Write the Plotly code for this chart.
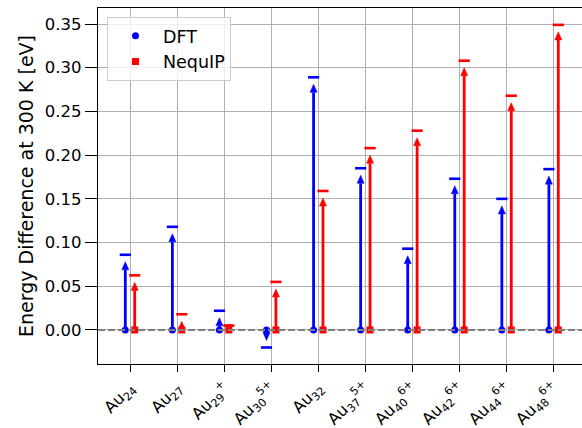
import numpy as np
import plotly.graph_objects as go

categories = ["Au<sub>24</sub>", "Au<sub>27</sub>", "Au<sub>29</sub><sup>+</sup>", "Au<sub>30</sub><sup>5+</sup>",
              "Au<sub>32</sub>", "Au<sub>37</sub><sup>5+</sup>", "Au<sub>40</sub><sup>6+</sup>",
              "Au<sub>42</sub><sup>6+</sup>", "Au<sub>44</sub><sup>6+</sup>", "Au<sub>48</sub><sup>6+</sup>"]
dft = [0.086, 0.118, 0.022, -0.020, 0.289, 0.185, 0.093, 0.173, 0.150, 0.184]
nequip = [0.0625, 0.018, 0.005, 0.055, 0.159, 0.208, 0.228, 0.308, 0.268, 0.349]
ytick_vals = [0.00, 0.05, 0.10, 0.15, 0.20, 0.25, 0.30, 0.35]

# style constants
OFFSET = 0.1
GAP = 0.008        # gap between dash and arrow tip (data units)
HEAD_LEN = 0.0092
HEAD_HW = 0.075
FONT = "DejaVu Sans"

fig = go.Figure()
idx = np.arange(len(categories))


def add_series(vals, xpos, color, symbol, name):
    vals = np.asarray(vals, dtype=float)
    ends = vals - np.sign(vals) * GAP
    sx, sy, hx, hy = [], [], [], []
    for x, e in zip(xpos, ends):
        s = 1.0 if e >= 0 else -1.0
        base = e - s * HEAD_LEN
        sx += [x, x, None]
        sy += [0, base, None]
        hx += [x - HEAD_HW, x + HEAD_HW, x, x - HEAD_HW, None]
        hy += [base, base, e, base, None]
    fig.add_trace(go.Scatter(x=sx, y=sy, mode="lines", line=dict(color=color, width=2.8),
                             showlegend=False, hoverinfo="skip"))
    fig.add_trace(go.Scatter(x=hx, y=hy, mode="lines", fill="toself", fillcolor=color,
                             line=dict(color=color, width=0.5), showlegend=False, hoverinfo="skip"))
    fig.add_trace(go.Scatter(x=xpos, y=vals, mode="markers",
                             marker=dict(symbol="line-ew", size=8, line=dict(color=color, width=2.6)),
                             showlegend=False, hoverinfo="skip"))
    fig.add_trace(go.Scatter(x=xpos, y=np.zeros(len(xpos)), mode="markers",
                             marker=dict(symbol=symbol, size=7, color=color),
                             showlegend=False, hoverinfo="skip"))
    fig.add_trace(go.Scatter(x=[None], y=[None], mode="markers", name=name,
                             marker=dict(symbol=symbol, size=7, color=color)))


add_series(dft, idx - OFFSET, "#0000ff", "circle", "DFT")
add_series(nequip, idx + OFFSET, "#ff0000", "square", "NequIP")

fig.add_shape(type="line", xref="paper", x0=0, x1=1, yref="y", y0=0, y1=0,
              line=dict(color="#808080", width=2.2, dash="7px,3px"), layer="above")

fig.update_layout(
    width=582, height=428,
    margin=dict(l=98, r=0, t=8, b=64),
    paper_bgcolor="white", plot_bgcolor="white",
    font=dict(family=FONT, size=16, color="black"),
    legend=dict(x=0.0186, y=0.975, xanchor="left", yanchor="top",
                bgcolor="rgba(255,255,255,0.8)", bordercolor="#cccccc", borderwidth=1,
                font=dict(size=17.5), itemwidth=45),
    xaxis=dict(range=[-0.68, 9.603], tickvals=list(idx), ticktext=categories,
               tickangle=-45, ticks="outside", ticklen=7, tickwidth=1.3, tickcolor="black",
               showline=True, linecolor="black", linewidth=1.3, mirror=True,
               showgrid=True, gridcolor="#b0b0b0", gridwidth=1.3, zeroline=False,
               tickfont=dict(size=16), automargin=False),
    yaxis=dict(range=[-0.0389, 0.3683], tickvals=ytick_vals,
               ticktext=[f"{v:.2f}" for v in ytick_vals],
               ticks="outside", ticklen=12, tickwidth=1.3, tickcolor="black",
               showline=True, linecolor="black", linewidth=1.3, mirror=False,
               showgrid=True, gridcolor="#b0b0b0", gridwidth=1.3, zeroline=False,
               tickfont=dict(size=16.5), automargin=False,
               title=dict(text="Energy Difference at 300 K [eV]", font=dict(size=19), standoff=6)),
)

fig.write_html("out.html")
